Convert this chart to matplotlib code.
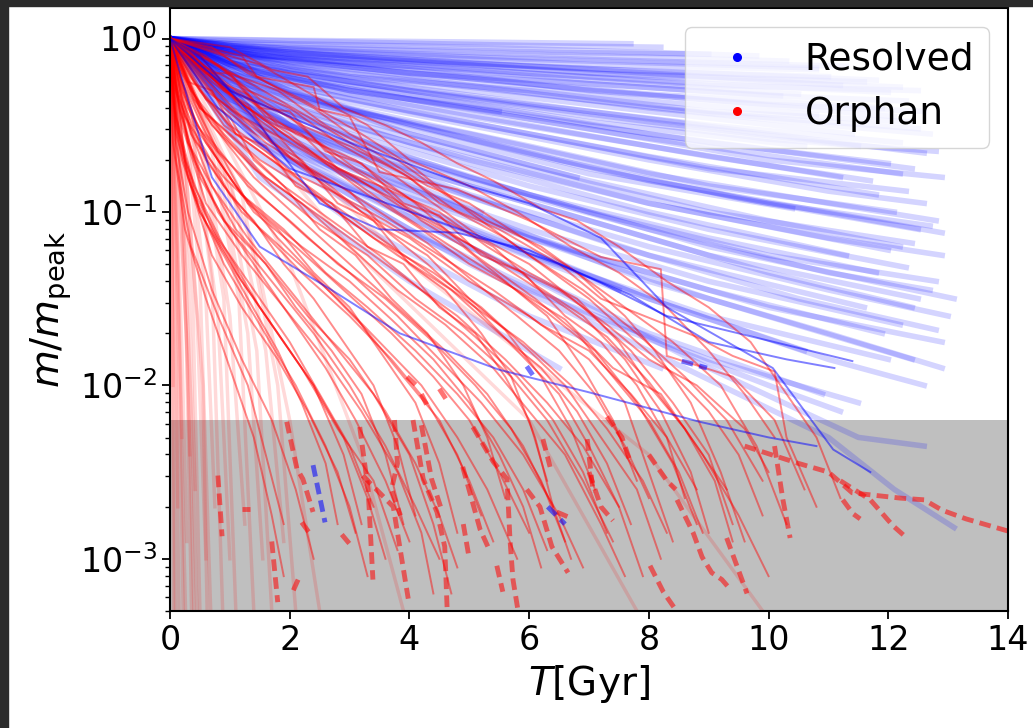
import numpy as np
import matplotlib
matplotlib.use("Agg")
import matplotlib.pyplot as plt
from matplotlib.lines import Line2D
from matplotlib.patches import Rectangle

# tracks are lists of (T [Gyr], log10 m/m_peak)

# faint resolved tracks (the blue haze)
BLUE_FAINT = [
    [(0, 0), (2, -0.01), (5, -0.02), (7.7, -0.03)],
    [(0, 0), (3, -0.02), (6, -0.04), (8.2, -0.05)],
    [(0, 0), (2, -0.03), (5, -0.05), (8, -0.08), (9.8, -0.1)],
    [(0, 0), (1, -0.04), (4, -0.07), (7, -0.1), (10.3, -0.13)],
    [(0, 0), (1.5, -0.06), (4, -0.1), (7, -0.15), (10.8, -0.18)],
    [(0, 0), (1, -0.05), (3.5, -0.12), (6, -0.16), (9, -0.2), (11.8, -0.24)],
    [(0, 0), (2, -0.1), (5, -0.15), (8, -0.22), (12.2, -0.28)],
    [(0, 0), (1, -0.08), (3, -0.14), (6, -0.2), (9, -0.27), (12.5, -0.3)],
    [(0, 0), (2, -0.12), (4, -0.2), (7, -0.26), (10, -0.33), (12.3, -0.36)],
    [(0, 0), (1.5, -0.1), (4, -0.18), (7, -0.3), (10, -0.38), (12.6, -0.42)],
    [(0, 0), (1, -0.1), (3, -0.22), (6, -0.3), (9, -0.42), (12.4, -0.48)],
    [(0, 0), (2, -0.15), (5, -0.27), (8, -0.4), (11, -0.5), (12.7, -0.55)],
    [(0, 0), (1, -0.12), (3, -0.25), (6, -0.38), (9, -0.5), (12.2, -0.6)],
    [(0, 0), (2, -0.2), (4, -0.3), (7, -0.45), (10, -0.58), (12.8, -0.65)],
    [(0, 0), (1, -0.15), (3, -0.3), (6, -0.45), (9, -0.6), (12.0, -0.72)],
    [(0, 0), (1.5, -0.2), (4, -0.35), (7, -0.52), (10, -0.7), (12.9, -0.8)],
    [(0, 0), (1, -0.18), (3, -0.35), (6, -0.55), (9, -0.75), (12.3, -0.88)],
    [(0, 0), (2, -0.3), (5, -0.5), (8, -0.7), (11, -0.88), (12.6, -0.95)],
    [(0, 0), (1, -0.2), (3, -0.4), (6, -0.62), (9, -0.85), (12.1, -1.0)],
    [(0, 0), (1.5, -0.28), (4, -0.5), (7, -0.75), (10, -0.95), (12.7, -1.08)],
    [(0, 0), (1, -0.25), (3, -0.48), (6, -0.75), (9, -1.0), (12.4, -1.18)],
    [(0, 0), (2, -0.4), (5, -0.7), (8, -0.95), (11, -1.15), (12.9, -1.25)],
    [(0, 0), (1, -0.3), (3, -0.55), (6, -0.85), (9, -1.1), (12.3, -1.32)],
    [(0, 0), (1.5, -0.35), (4, -0.7), (7, -1.0), (10, -1.25), (12.8, -1.4)],
    [(0, 0), (1, -0.35), (3, -0.65), (6, -0.95), (9, -1.25), (12.5, -1.5)],
    [(0, 0), (2, -0.5), (5, -0.9), (8, -1.2), (11, -1.45), (13.0, -1.6)],
    [(0, 0), (1, -0.4), (3, -0.75), (6, -1.1), (9, -1.4), (12.2, -1.65)],
    [(0, 0), (1.5, -0.5), (4, -0.9), (7, -1.25), (10, -1.55), (12.9, -1.75)],
    [(0, 0), (1, -0.45), (3, -0.85), (6, -1.25), (9, -1.6), (12.0, -1.85)],
    [(0, 0), (2, -0.65), (5, -1.1), (8, -1.5), (11, -1.85), (12.6, -2.0)],
    [(0, 0), (1, -0.5), (3, -0.95), (6, -1.45), (9, -1.85), (11.5, -2.1)],
    [(0, 0), (1.5, -0.6), (4, -1.1), (7, -1.6), (10, -2.0), (11.2, -2.15)],
    [(0, 0), (1, -0.03), (4, -0.06), (6.5, -0.08), (9.0, -0.09)],
    [(0, 0), (2, -0.06), (5, -0.1), (8, -0.13), (11.3, -0.16)],
    [(0, 0), (1, -0.07), (4, -0.13), (7, -0.2), (11.6, -0.25)],
    [(0, 0), (2, -0.09), (6, -0.2), (9, -0.26), (12.0, -0.31)],
    [(0, 0), (1, -0.09), (4, -0.2), (8, -0.32), (11.9, -0.4)],
    [(0, 0), (2, -0.16), (5, -0.28), (9, -0.43), (12.5, -0.52)],
    [(0, 0), (1, -0.14), (4, -0.3), (8, -0.48), (11.5, -0.62)],
    [(0, 0), (2, -0.22), (5, -0.38), (8, -0.55), (12.4, -0.75)],
    [(0, 0), (1, -0.2), (4, -0.42), (8, -0.68), (11.8, -0.9)],
    [(0, 0), (2, -0.32), (5, -0.58), (8, -0.82), (12.9, -1.12)],
    [(0, 0), (1, -0.28), (4, -0.6), (8, -0.95), (12.0, -1.22)],
    [(0, 0), (2, -0.45), (5, -0.8), (9, -1.2), (13.1, -1.5)],
    [(0, 0), (1, -0.38), (4, -0.8), (8, -1.25), (11.6, -1.55)],
    [(0, 0), (2, -0.55), (6, -1.15), (9, -1.5), (12.4, -1.85)],
    [(0, 0), (1.2, -0.5), (4, -0.95), (8, -1.5), (10.6, -1.8)],
    [(0, 0), (2, -0.7), (5, -1.2), (8, -1.7), (10.9, -2.05)],
    [(0, 0), (1, -0.15), (3, -0.3), (5.5, -0.42)],
    [(0, 0), (2, -0.3), (4, -0.55), (6.8, -0.8)],
    [(0, 0), (1, -0.3), (3, -0.7), (5.2, -1.0)],
    [(0, 0), (2, -0.6), (4, -1.0), (7.5, -1.45)],
    [(0, 0), (1, -0.55), (3, -1.05), (6, -1.6), (8.2, -1.9)],
    [(0, 0), (1.5, -0.8), (4, -1.4), (6.5, -1.9)],
    [(0, 0), (2, -0.7), (5, -1.3), (8, -1.8), (11, -2.3), (12.1, -2.6), (13.1, -2.82)],
    [(0, 0), (1.5, -0.6), (5, -1.2), (9, -1.9), (11.5, -2.3), (12.6, -2.35)],
    [(0, 0), (1, -0.06), (3, -0.1), (6, -0.16), (9, -0.22), (11.2, -0.27)],
    [(0, 0), (1.5, -0.1), (4, -0.16), (7, -0.24), (10.5, -0.32)],
    [(0, 0), (1, -0.1), (3.5, -0.18), (6.5, -0.28), (9.5, -0.37), (12.1, -0.45)],
    [(0, 0), (2, -0.18), (5, -0.3), (8, -0.42), (11.4, -0.55)],
    [(0, 0), (1, -0.12), (4, -0.28), (7, -0.42), (10, -0.55), (12.6, -0.66)],
    [(0, 0), (1.5, -0.2), (4.5, -0.38), (7.5, -0.55), (10.5, -0.7), (12.2, -0.78)],
    [(0, 0), (1, -0.16), (3, -0.32), (6, -0.5), (9, -0.68), (11.7, -0.82)],
    [(0, 0), (2, -0.35), (5, -0.55), (8, -0.78), (11, -0.95), (12.8, -1.05)],
    [(0, 0), (1, -0.22), (3.5, -0.45), (6.5, -0.7), (9.5, -0.92), (12.5, -1.1)],
    [(0, 0), (1.5, -0.3), (4, -0.55), (7, -0.82), (10, -1.05), (12.2, -1.2)],
    [(0, 0), (1, -0.3), (3, -0.58), (6, -0.9), (9, -1.15), (11.8, -1.35)],
    [(0, 0), (2, -0.5), (5, -0.82), (8, -1.1), (11, -1.35), (12.7, -1.45)],
    [(0, 0), (1, -0.35), (4, -0.75), (7, -1.05), (10, -1.35), (12.4, -1.55)],
    [(0, 0), (1.5, -0.45), (4.5, -0.85), (7.5, -1.2), (10.5, -1.5), (12.8, -1.68)],
    [(0, 0), (1, -0.04), (3, -0.08), (6, -0.12), (9, -0.15), (10.8, -0.17)],
    [(0, 0), (2, -0.08), (5, -0.14), (8, -0.19), (11.0, -0.22)],
    [(0, 0), (1, -0.08), (4, -0.17), (7, -0.26), (10.2, -0.33)],
    [(0, 0), (2, -0.14), (5, -0.25), (8, -0.36), (10.8, -0.44)],
    [(0, 0), (1, -0.14), (4, -0.32), (7, -0.48), (10.6, -0.62)],
    [(0, 0), (2, -0.26), (5, -0.45), (8, -0.62), (11.2, -0.8)],
    [(0, 0), (1, -0.24), (4, -0.52), (7, -0.78), (10.4, -0.98)],
    [(0, 0), (2, -0.42), (5, -0.72), (8, -1.0), (11.3, -1.25)],
    [(0, 0), (1, -0.42), (3, -0.8), (6, -1.15), (9, -1.45), (11.9, -1.7)],
    [(0, 0), (2, -0.6), (5, -1.0), (8, -1.4), (11, -1.7), (12.9, -1.9)],
]

# a few resolved tracks drawn darker
BLUE_SOLID = [
    [(0, 0), (0.5, -0.1), (1.5, -0.5), (2.5, -0.95), (3.5, -1.1), (4.8, -1.12),
     (6.0, -1.22), (7.2, -1.41), (8.3, -1.6), (9.5, -1.7), (11.4, -1.86)],
    [(0, 0), (1, -0.3), (3, -0.6), (5, -0.85), (6, -0.95), (7.2, -1.15),
     (8.3, -1.55), (10.07, -1.9), (11.08, -2.37), (11.7, -2.5)],
    [(0, 0), (0.3, -0.35), (0.7, -0.8), (1.5, -1.2), (2.7, -1.45), (3.84, -1.7),
     (5.5, -1.91), (7.0, -2.04), (8.85, -2.21), (10.0, -2.3), (10.8, -2.35)],
    [(0, 0), (0.8, -0.4), (2.0, -0.75), (3.46, -0.93), (4.84, -1.1), (6.5, -1.3),
     (7.7, -1.48), (9.0, -1.75), (10.3, -1.85), (11.1, -1.9)],
]

# faint orphan tracks, steep early drops
RED_FAINT = [
    [(0, 0), (0.03, -1.2), (0.06, -2.4), (0.09, -3.3)],
    [(0, 0), (0.05, -0.9), (0.1, -2.0), (0.15, -3.3)],
    [(0, 0), (0.08, -0.9), (0.15, -1.9), (0.22, -3.3)],
    [(0, 0), (0.1, -0.8), (0.2, -1.8), (0.28, -2.9)],
    [(0, 0), (0.15, -0.8), (0.27, -1.7), (0.36, -3.3)],
    [(0, 0), (0.18, -0.7), (0.32, -1.5), (0.42, -2.6)],
    [(0, 0), (0.2, -0.6), (0.38, -1.5), (0.5, -3.3)],
    [(0, 0), (0.25, -0.7), (0.45, -1.6), (0.6, -3.0)],
    [(0, 0), (0.3, -0.6), (0.5, -1.4), (0.68, -3.3)],
    [(0, 0), (0.35, -0.65), (0.6, -1.5), (0.75, -2.7)],
    [(0, 0), (0.4, -0.6), (0.7, -1.4), (0.88, -3.3)],
    [(0, 0), (0.45, -0.7), (0.8, -1.6), (1.0, -3.0)],
    [(0, 0), (0.5, -0.6), (0.9, -1.5), (1.1, -3.3)],
    [(0, 0), (0.6, -0.7), (1.0, -1.6), (1.25, -2.8)],
    [(0, 0), (0.7, -0.65), (1.15, -1.5), (1.4, -3.3)],
    [(0, 0), (0.8, -0.7), (1.3, -1.7), (1.55, -3.0)],
    [(0, 0), (0.9, -0.75), (1.45, -1.8), (1.7, -3.3)],
    [(0, 0), (1.0, -0.8), (1.6, -1.8), (1.9, -2.9)],
    [(0, 0), (1.2, -0.9), (1.8, -2.0), (2.1, -3.3)],
    [(0, 0), (0.02, -0.5), (0.04, -1.6), (0.06, -3.3)],
    [(0, 0), (0.12, -1.2), (0.18, -2.2), (0.26, -3.3)],
    [(0, 0), (0.22, -1.0), (0.35, -2.1), (0.45, -3.3)],
    [(0, 0), (0.3, -0.9), (0.55, -2.0), (0.62, -3.3)],
    [(0, 0), (1.4, -1.2), (2.0, -2.2), (2.5, -3.3)],
    [(0, 0), (2.0, -1.3), (3.2, -2.4), (3.9, -3.3)],
    [(0, 0), (3.0, -1.2), (6.0, -2.2), (7.8, -3.3)],
    [(0, 0), (4.0, -1.3), (8.0, -2.4), (9.9, -3.3)],
    [(0, 0), (0.01, -0.3), (0.03, -0.9), (0.05, -2.0)],
    [(0, 0), (0.06, -0.4), (0.12, -1.1), (0.2, -2.3)],
    [(0, 0), (0.04, -0.6), (0.09, -1.4), (0.13, -2.7)],
    [(0, 0), (0.13, -0.5), (0.24, -1.3), (0.33, -2.4)],
    [(0, 0), (0.07, -0.3), (0.16, -0.9), (0.3, -1.9), (0.4, -3.3)],
]

# orphan tracks above the resolution limit
RED_SOLID = [
    [(0, 0), (1.2, -0.1), (1.45, -0.22), (2.4, -0.28), (2.5, -0.41), (3.0, -0.45), (3.5, -0.77),
     (4.8, -0.87), (6.0, -1.05), (7.2, -1.26), (8.2, -1.33), (8.3, -1.83), (9.4, -1.95),
     (10.1, -2.2), (10.6, -2.6)],
    [(0, 0), (0.8, -0.15), (1.5, -0.35), (2.2, -0.5), (3.0, -0.62), (4.0, -0.8), (4.5, -0.95),
     (5.5, -1.1), (6.5, -1.3), (7.2, -1.5), (8.8, -1.72), (9.4, -1.83), (10.1, -1.92),
     (10.3, -2.3), (10.8, -2.7)],
    [(0, 0), (0.5, -0.1), (1.0, -0.3), (2.0, -0.45), (2.8, -0.7), (3.5, -0.85), (4.5, -1.0),
     (5.3, -1.2), (6.0, -1.35), (6.8, -1.5), (7.5, -1.75), (8.0, -2.0), (8.6, -2.25), (9.3, -2.6)],
    [(0, 0), (0.6, -0.2), (1.3, -0.4), (2.0, -0.55), (2.6, -0.72), (3.3, -0.9), (4.2, -1.1),
     (5.0, -1.3), (5.8, -1.45), (6.6, -1.62), (7.4, -1.9), (8.2, -2.05), (8.9, -2.4),
     (9.5, -2.75), (10.0, -3.1)],
    [(0, 0), (0.3, -0.15), (0.9, -0.4), (1.6, -0.6), (2.5, -0.8), (3.2, -1.0), (4.0, -1.15),
     (5.0, -1.4), (6.0, -1.6), (7.0, -1.85), (7.6, -2.1), (8.0, -2.5), (8.4, -2.9)],
    [(0, 0), (0.4, -0.25), (1.0, -0.5), (1.8, -0.7), (2.6, -0.95), (3.4, -1.15), (4.4, -1.35),
     (5.2, -1.55), (6.0, -1.8), (6.6, -2.0), (7.2, -2.3), (7.8, -2.6), (8.2, -3.0)],
    [(0, 0), (0.2, -0.2), (0.7, -0.5), (1.4, -0.75), (2.2, -0.95), (3.0, -1.2), (3.8, -1.45),
     (4.6, -1.65), (5.4, -1.9), (6.0, -2.15), (6.6, -2.4), (7.2, -2.8), (7.6, -3.1)],
    [(0, 0), (0.3, -0.3), (0.8, -0.65), (1.5, -0.9), (2.3, -1.15), (3.0, -1.35), (3.8, -1.6),
     (4.5, -1.85), (5.2, -2.1), (5.9, -2.4), (6.5, -2.75), (6.9, -3.05)],
    [(0, 0), (0.2, -0.35), (0.6, -0.7), (1.2, -1.0), (2.0, -1.25), (2.8, -1.5), (3.5, -1.75),
     (4.2, -2.0), (4.8, -2.3), (5.3, -2.6), (5.8, -3.0)],
    [(0, 0), (0.15, -0.4), (0.5, -0.8), (1.0, -1.1), (1.7, -1.4), (2.4, -1.7), (3.0, -2.0),
     (3.6, -2.35), (4.1, -2.7), (4.5, -3.0)],
    [(0, 0), (0.1, -0.5), (0.4, -0.9), (0.9, -1.3), (1.5, -1.65), (2.1, -2.0), (2.6, -2.35),
     (3.0, -2.7), (3.3, -3.1)],
    [(0, 0), (0.1, -0.6), (0.3, -1.0), (0.7, -1.45), (1.2, -1.85), (1.7, -2.2), (2.1, -2.6), (2.4, -3.0)],
    [(0, 0), (1.0, -0.2), (1.8, -0.3), (2.6, -0.5), (3.4, -0.65), (4.3, -0.85), (5.0, -0.95),
     (5.9, -1.15), (6.8, -1.35), (7.6, -1.6), (8.1, -1.8), (8.7, -2.1), (9.2, -2.5), (9.6, -2.9)],
    [(0, 0), (0.7, -0.25), (1.5, -0.45), (2.3, -0.65), (3.1, -0.8), (3.9, -0.98), (4.8, -1.15),
     (5.6, -1.3), (6.5, -1.45), (7.3, -1.65), (8.0, -1.85), (8.8, -2.0), (9.6, -2.25), (10.0, -2.5)],
    [(0, 0), (0.5, -0.3), (1.1, -0.55), (1.9, -0.75), (2.7, -0.88), (3.6, -1.05), (4.5, -1.25),
     (5.4, -1.45), (6.2, -1.65), (7.0, -1.8), (7.7, -2.05), (8.3, -2.3), (8.8, -2.6)],
    [(0, 0), (0.4, -0.35), (1.0, -0.6), (1.7, -0.85), (2.4, -1.05), (3.3, -1.25), (4.1, -1.5),
     (4.9, -1.7), (5.7, -1.95), (6.3, -2.2), (6.9, -2.55), (7.4, -2.9)],
    [(0, 0), (0.3, -0.4), (0.8, -0.7), (1.4, -1.0), (2.1, -1.2), (2.9, -1.45), (3.7, -1.7),
     (4.4, -1.95), (5.0, -2.2), (5.5, -2.5), (6.0, -2.85)],
    [(0, 0), (0.25, -0.45), (0.7, -0.85), (1.3, -1.15), (2.0, -1.45), (2.7, -1.75), (3.4, -2.05),
     (4.0, -2.4), (4.4, -2.8), (4.7, -3.2)],
    [(0, 0), (0.15, -0.55), (0.5, -1.0), (1.1, -1.35), (1.8, -1.7), (2.4, -2.0), (2.9, -2.4), (3.2, -2.8)],
    [(0, 0), (0.1, -0.7), (0.35, -1.2), (0.8, -1.6), (1.3, -2.0), (1.6, -2.4), (1.9, -2.8)],
    [(0, 0), (0.9, -0.1), (1.6, -0.25), (2.4, -0.4), (3.0, -0.55), (3.8, -0.7), (4.6, -0.9),
     (5.3, -1.05), (6.2, -1.2), (7.0, -1.4), (7.6, -1.55), (8.4, -1.75), (9.2, -2.0),
     (9.8, -2.35), (10.3, -2.8)],
    [(0, 0), (0.6, -0.1), (1.3, -0.3), (2.0, -0.4), (2.8, -0.6), (3.7, -0.78), (4.4, -0.95),
     (5.2, -1.15), (6.0, -1.3), (6.9, -1.55), (7.7, -1.8), (8.4, -2.1), (9.0, -2.4), (9.4, -2.8)],
    [(0, 0), (0.5, -0.2), (1.2, -0.45), (2.0, -0.6), (2.9, -0.78), (3.8, -1.0), (4.7, -1.2),
     (5.5, -1.38), (6.3, -1.58), (7.1, -1.8), (7.8, -2.1), (8.4, -2.45), (8.8, -2.8)],
    [(0, 0), (0.35, -0.3), (0.9, -0.55), (1.6, -0.8), (2.4, -1.0), (3.2, -1.2), (4.0, -1.4),
     (4.8, -1.6), (5.6, -1.85), (6.3, -2.1), (6.9, -2.35), (7.5, -2.7), (7.9, -3.1)],
    [(0, 0), (0.2, -0.3), (0.6, -0.6), (1.2, -0.9), (1.9, -1.1), (2.6, -1.35), (3.3, -1.55),
     (4.1, -1.8), (4.8, -2.05), (5.4, -2.3), (5.9, -2.6), (6.3, -2.95)],
    [(0, 0), (0.2, -0.5), (0.6, -0.95), (1.2, -1.25), (1.9, -1.55), (2.6, -1.85), (3.2, -2.15),
     (3.8, -2.5), (4.2, -2.85), (4.4, -3.2)],
    [(0, 0), (0.1, -0.45), (0.4, -0.85), (0.9, -1.2), (1.5, -1.55), (2.2, -1.9), (2.8, -2.25),
     (3.4, -2.55), (3.8, -2.95)],
    [(0, 0), (0.05, -0.6), (0.25, -1.1), (0.6, -1.5), (1.0, -1.9), (1.4, -2.3), (1.7, -2.75), (1.9, -3.1)],
    [(0, 0), (1.5, -0.15), (2.5, -0.35), (3.3, -0.5), (4.0, -0.7), (5.0, -0.85), (5.8, -1.0),
     (6.7, -1.2), (7.5, -1.35), (8.3, -1.55), (9.0, -1.8), (9.6, -2.05), (10.1, -2.3)],
    [(0, 0), (1.1, -0.3), (2.1, -0.55), (3.1, -0.7), (4.1, -0.95), (5.1, -1.25), (6.1, -1.5),
     (6.8, -1.7), (7.4, -1.95), (8.0, -2.2), (8.5, -2.5), (8.9, -2.85)],
    [(0, 0), (0.8, -0.35), (1.7, -0.6), (2.6, -0.85), (3.4, -1.05), (4.3, -1.3), (5.1, -1.55),
     (5.8, -1.8), (6.5, -2.05), (7.0, -2.35), (7.5, -2.7)],
    [(0, 0), (0.6, -0.45), (1.4, -0.8), (2.2, -1.05), (3.0, -1.3), (3.8, -1.55), (4.6, -1.8),
     (5.3, -2.05), (5.9, -2.35), (6.4, -2.7), (6.7, -3.0)],
    [(0, 0), (0.4, -0.5), (1.1, -0.85), (1.8, -1.15), (2.5, -1.4), (3.2, -1.65), (3.9, -1.95),
     (4.5, -2.2), (5.0, -2.55), (5.4, -2.9)],
    [(0, 0), (0.3, -0.6), (0.8, -1.0), (1.4, -1.3), (2.0, -1.6), (2.6, -1.9), (3.1, -2.2),
     (3.6, -2.55), (4.0, -2.9)],
    [(0, 0), (0.7, -0.05), (1.3, -0.2), (2.2, -0.35), (3.2, -0.55), (4.1, -0.75), (5.0, -1.0),
     (6.0, -1.25), (6.9, -1.45), (7.8, -1.7), (8.6, -1.95), (9.3, -2.2), (9.9, -2.55)],
    [(0, 0), (0.45, -0.15), (1.1, -0.35), (1.9, -0.55), (2.8, -0.75), (3.7, -0.92), (4.6, -1.1),
     (5.5, -1.3), (6.4, -1.5), (7.3, -1.72), (8.0, -1.98), (8.6, -2.25), (9.1, -2.55), (9.4, -2.9)],
    [(0, 0), (0.3, -0.2), (0.9, -0.5), (1.7, -0.7), (2.5, -0.9), (3.3, -1.1), (4.2, -1.32),
     (5.1, -1.55), (5.9, -1.75), (6.7, -2.0), (7.3, -2.25), (7.9, -2.55), (8.3, -2.85)],
    [(0, 0), (0.2, -0.25), (0.6, -0.55), (1.3, -0.85), (2.0, -1.05), (2.8, -1.3), (3.6, -1.5),
     (4.4, -1.75), (5.1, -2.0), (5.7, -2.25), (6.2, -2.55), (6.6, -2.9)],
    [(0, 0), (0.1, -0.3), (0.4, -0.7), (0.9, -1.05), (1.6, -1.3), (2.3, -1.6), (3.0, -1.85),
     (3.6, -2.15), (4.1, -2.45), (4.5, -2.75), (4.8, -3.05)],
    [(0, 0), (0.08, -0.4), (0.3, -0.8), (0.7, -1.25), (1.2, -1.55), (1.8, -1.85), (2.3, -2.15),
     (2.8, -2.5), (3.1, -2.85)],
    [(0, 0), (1.0, -0.05), (1.7, -0.18), (2.3, -0.22), (2.9, -0.4), (3.6, -0.5), (4.2, -0.6),
     (4.8, -0.72), (5.4, -0.82), (6.2, -0.98), (6.8, -1.05), (7.5, -1.2), (8.3, -1.4),
     (9.0, -1.55), (9.7, -1.75), (10.2, -2.0), (10.8, -2.3), (11.2, -2.65)],
    [(0, 0), (0.3, -0.1), (0.8, -0.25), (1.3, -0.32), (1.8, -0.5), (2.5, -0.6), (3.1, -0.75),
     (3.9, -0.9), (4.6, -1.05), (5.4, -1.2), (6.1, -1.42), (6.9, -1.6), (7.6, -1.85),
     (8.2, -2.15), (8.7, -2.5), (9.0, -2.85)],
    [(0, 0), (0.2, -0.15), (0.5, -0.4), (1.0, -0.55), (1.5, -0.7), (2.2, -0.85), (3.0, -1.05),
     (3.8, -1.25), (4.7, -1.45), (5.5, -1.7), (6.2, -1.9), (6.8, -2.15), (7.3, -2.45), (7.7, -2.8)],
    [(0, 0), (0.15, -0.35), (0.45, -0.6), (0.9, -0.8), (1.5, -1.0), (2.2, -1.2), (3.0, -1.4),
     (3.7, -1.62), (4.4, -1.85), (5.0, -2.1), (5.5, -2.4), (5.9, -2.7), (6.2, -3.05)],
    [(0, 0), (0.1, -0.55), (0.35, -0.85), (0.8, -1.15), (1.4, -1.45), (2.0, -1.75), (2.5, -2.05),
     (3.0, -2.35), (3.4, -2.7)],
    [(0, 0), (0.6, -0.3), (1.4, -0.5), (2.0, -0.68), (2.7, -0.82), (3.5, -1.0), (4.3, -1.18),
     (5.0, -1.38), (5.8, -1.6), (6.5, -1.8), (7.1, -2.05), (7.6, -2.35), (8.0, -2.65)],
    [(0, 0), (0.5, -0.4), (1.2, -0.62), (1.9, -0.85), (2.7, -1.05), (3.5, -1.25), (4.3, -1.48),
     (5.1, -1.72), (5.8, -1.95), (6.4, -2.2), (6.9, -2.5), (7.3, -2.85)],
    [(0, 0), (0.35, -0.55), (0.9, -0.85), (1.5, -1.1), (2.2, -1.35), (3.0, -1.6), (3.7, -1.85),
     (4.3, -2.1), (4.8, -2.4), (5.2, -2.75)],
    [(0, 0), (0.25, -0.7), (0.7, -1.1), (1.2, -1.4), (1.8, -1.7), (2.4, -2.0), (2.9, -2.3),
     (3.3, -2.65), (3.6, -3.0)],
    [(0, 0), (1.3, -0.25), (2.3, -0.45), (3.1, -0.62), (3.9, -0.78), (4.8, -1.0), (5.6, -1.15),
     (6.4, -1.35), (7.0, -1.5), (7.7, -1.72), (8.3, -1.9), (9.0, -2.15), (9.5, -2.4), (9.9, -2.75)],
    [(0, 0), (0.4, -0.1), (0.9, -0.3), (1.3, -0.38), (1.7, -0.6), (2.2, -0.7), (2.8, -0.95),
     (3.4, -1.05), (4.0, -1.3), (4.6, -1.45), (5.2, -1.7), (5.7, -1.95), (6.1, -2.3), (6.4, -2.7)],
    [(0, 0), (0.2, -0.1), (0.6, -0.35), (1.0, -0.45), (1.4, -0.7), (1.9, -0.85), (2.5, -1.1),
     (3.1, -1.25), (3.7, -1.5), (4.3, -1.7), (4.9, -2.0), (5.3, -2.3), (5.6, -2.65)],
    [(0, 0), (0.15, -0.2), (0.45, -0.5), (0.9, -0.7), (1.3, -0.95), (1.8, -1.1), (2.4, -1.35),
     (3.0, -1.55), (3.6, -1.85), (4.1, -2.1), (4.5, -2.45), (4.8, -2.85)],
    [(0, 0), (0.1, -0.3), (0.3, -0.6), (0.7, -0.85), (1.1, -1.1), (1.6, -1.3), (2.1, -1.55),
     (2.7, -1.8), (3.2, -2.05), (3.6, -2.4), (3.9, -2.8)],
    [(0, 0), (0.5, -0.15), (1.1, -0.25), (1.6, -0.45), (2.2, -0.55), (2.8, -0.75), (3.5, -0.85),
     (4.2, -1.05), (4.9, -1.2), (5.6, -1.4), (6.3, -1.6), (6.9, -1.9), (7.4, -2.2), (7.8, -2.55)],
    [(0, 0), (0.25, -0.05), (0.7, -0.2), (1.2, -0.4), (1.7, -0.52), (2.3, -0.75), (3.0, -0.88),
     (3.6, -1.1), (4.3, -1.25), (5.0, -1.5), (5.6, -1.68), (6.2, -1.95), (6.7, -2.25), (7.1, -2.6)],
    [(0, 0), (0.08, -0.25), (0.25, -0.45), (0.6, -0.65), (1.0, -0.9), (1.4, -1.05), (1.9, -1.3),
     (2.4, -1.5), (2.9, -1.75), (3.4, -2.0), (3.8, -2.35), (4.1, -2.75)],
    [(0, 0), (0.05, -0.35), (0.2, -0.7), (0.5, -1.0), (0.9, -1.25), (1.3, -1.5), (1.8, -1.8),
     (2.2, -2.1), (2.6, -2.45), (2.8, -2.8)],
    [(0, 0), (0.6, -0.2), (1.0, -0.2), (1.5, -0.4), (2.0, -0.42), (2.6, -0.65), (3.2, -0.72),
     (3.9, -0.95), (4.5, -1.02), (5.2, -1.25), (5.9, -1.35), (6.6, -1.6), (7.2, -1.75),
     (7.8, -2.0), (8.3, -2.3), (8.6, -2.65)],
    [(0, 0), (0.3, -0.25), (0.7, -0.3), (1.1, -0.55), (1.6, -0.62), (2.1, -0.85), (2.7, -0.95),
     (3.3, -1.2), (3.9, -1.3), (4.5, -1.55), (5.1, -1.7), (5.6, -1.95), (6.0, -2.2), (6.3, -2.55)],
]

# orphan pieces below the resolution limit (dashed)
RED_DASHED = [
    [(0.8, -2.52), (0.87, -2.87)],
    [(1.2, -2.71), (1.34, -2.71)],
    [(1.7, -2.9), (1.8, -3.25)],
    [(2.14, -3.12), (2.05, -3.19)],
    [(1.95, -2.21), (2.12, -2.48), (2.22, -2.54), (2.39, -2.73)],
    [(2.2, -2.79), (2.37, -2.87)],
    [(2.87, -2.86), (3.04, -2.93)],
    [(3.17, -2.24), (3.31, -2.6), (3.39, -3.12)],
    [(3.22, -2.52), (3.73, -2.7), (3.89, -3.04), (3.98, -3.23)],
    [(3.75, -2.2), (3.8, -2.45), (3.7, -2.6), (3.85, -2.75)],
    [(4.06, -2.2), (4.23, -2.54), (4.46, -2.73), (4.59, -2.93), (4.63, -3.29)],
    [(4.2, -2.23), (4.37, -2.54), (4.53, -2.71)],
    [(4.89, -2.47), (5.18, -2.83), (5.35, -2.96)],
    [(5.06, -2.24), (5.4, -2.44), (5.63, -2.54), (5.68, -2.89), (5.73, -3.12), (5.81, -3.29)],
    [(5.46, -3.04), (5.56, -3.19)],
    [(5.96, -2.6), (6.18, -2.7), (6.38, -2.93), (6.65, -3.08)],
    [(6.23, -2.31), (6.35, -2.47)],
    [(6.97, -2.31), (7.07, -2.62)],
    [(6.46, -2.73), (6.73, -2.77)],
    [(9.6, -2.35), (10.5, -2.45), (11.0, -2.5), (11.4, -2.62), (12.2, -2.65), (12.6, -2.66),
     (12.9, -2.72), (13.3, -2.77), (14.0, -2.84)],
    [(11.2, -2.55), (11.7, -2.66), (12.08, -2.81), (12.31, -2.88)],
    [(10.1, -2.35), (10.24, -2.66), (10.36, -2.88)],
    [(9.3, -2.88), (9.64, -3.2)],
    [(11.24, -2.66), (11.41, -2.74), (11.53, -2.77)],
    [(8.47, -2.66), (8.74, -2.85), (8.89, -2.99), (9.05, -3.08), (9.22, -3.12), (9.32, -3.16)],
    [(8.02, -3.04), (8.24, -3.19), (8.44, -3.29)],
    [(7.3, -2.18), (7.55, -2.3), (7.7, -2.45)],
    [(8.0, -2.4), (8.3, -2.55), (8.45, -2.6)],
    [(3.96, -1.95), (4.18, -2.02)],
    [(4.2, -2.05), (4.3, -2.12)],
    [(4.5, -2.02), (4.65, -2.1)],
    [(7.0, -2.5), (7.2, -2.7), (7.4, -2.78)],
    [(4.9, -2.8), (5.0, -3.0)],
]

BLUE_DASHED = [
    [(2.39, -2.46), (2.59, -2.79)],
    [(6.31, -2.70), (6.6, -2.80)],
    [(5.96, -1.89), (6.06, -1.94)],
    [(8.55, -1.86), (8.97, -1.90)],
]

RES_LIMIT = -2.2  # log10 of resolution limit
X_TICKS = [0, 2, 4, 6, 8, 10, 12, 14]


def draw(ax, tracks, **kw):
    for tr in tracks:
        t = [p[0] for p in tr]
        m = [10 ** p[1] for p in tr]
        ax.plot(t, m, **kw)


fig = plt.figure(figsize=(10.33, 7.28), dpi=100)
ax = fig.add_axes([170 / 1033, 1 - 611 / 728, 838 / 1033, 603 / 728])

ax.axhspan(5e-4, 10 ** RES_LIMIT, color="gray", alpha=0.5, lw=0, zorder=0)

draw(ax, BLUE_FAINT, color="blue", alpha=0.17, lw=4)
draw(ax, RED_FAINT, color="red", alpha=0.15, lw=2.5)
draw(ax, RED_SOLID, color="red", alpha=0.45, lw=1.4)
draw(ax, BLUE_SOLID, color="blue", alpha=0.5, lw=1.4)
draw(ax, RED_DASHED, color="red", alpha=0.55, lw=3.5, ls=(0, (2.4, 1.3)))
draw(ax, BLUE_DASHED, color="blue", alpha=0.55, lw=3.5, ls=(0, (2.4, 1.3)))

ax.set_yscale("log")
ax.set_xlim(0, 14)
ax.set_ylim(5e-4, 1.5)
ax.set_xticks(X_TICKS)
ax.tick_params(labelsize=24, length=6, width=1.3)
ax.tick_params(which="minor", length=3.5, width=1.0)
for s in ax.spines.values():
    s.set_linewidth(1.5)

ax.set_xlabel("$T$[Gyr]", fontsize=28)
ax.set_ylabel(r"$m/m_{\rm peak}$", fontsize=28)

handles = [Line2D([], [], ls="", marker="o", ms=5.5, color="blue"),
           Line2D([], [], ls="", marker="o", ms=5.5, color="red")]
ax.legend(handles, ["Resolved", "Orphan"], loc="upper right", fontsize=27)

# dark screenshot border on top and left
fig.patches.append(Rectangle((0, 1 - 6 / 728), 1, 6 / 728, transform=fig.transFigure,
                             color="#2b2b2b", zorder=10))
fig.patches.append(Rectangle((0, 0), 8 / 1033, 1, transform=fig.transFigure,
                             color="#2b2b2b", zorder=10))

fig.savefig("out.png", dpi=100)
